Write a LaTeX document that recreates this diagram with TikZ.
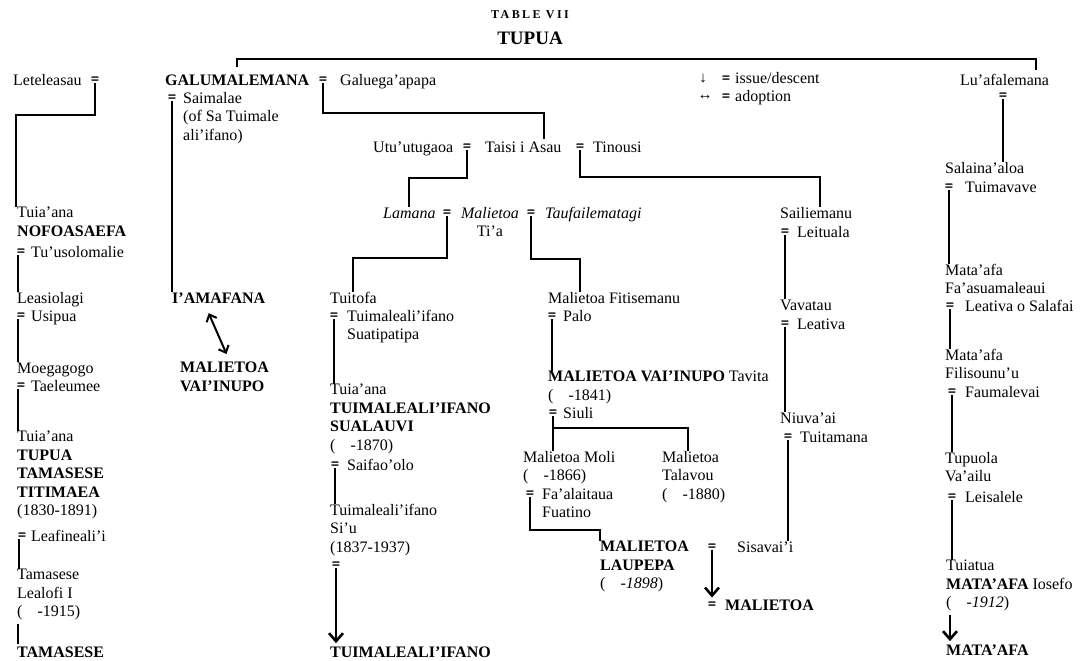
\documentclass[tikz,border=0pt]{standalone}
\usepackage{fontspec}
\setmainfont{Liberation Serif}
\usetikzlibrary{arrows.meta}
\newcommand\nmfont{\fontsize{16}{18.5}\selectfont}
\newcommand\eqfont{\fontsize{14}{14}\selectfont\bfseries\addfontfeatures{FakeBold=2}}
\newcommand\tblfont{\fontsize{12}{14}\selectfont\bfseries\addfontfeatures{LetterSpace=20}}
\newcommand\hdfont{\fontsize{19}{22}\selectfont\bfseries}
\newcommand\legfont{\fontsize{15}{16}\selectfont}
\newcommand\dgap{\hspace{15pt}}
\begin{document}
\begin{tikzpicture}[x=1pt,y=-1pt,
  nm/.style={anchor=base west, inner sep=0pt, align=left, font=\nmfont},
  mb/.style={nm, anchor=north west, yshift=11pt},
  eqs/.style={inner sep=0pt, font=\eqfont},
  link/.style={line width=2.6pt, line join=miter},
  desc/.style={link, -{Straight Barb[length=8pt,width=14pt]}},
  adopt/.style={line width=2pt, {Straight Barb[length=6pt,width=11pt]}-{Straight Barb[length=6pt,width=11pt]}}]
\useasboundingbox (0,0) rectangle (1082,661);
\fill[white] (0,0) rectangle (1082,661);

% heading
\node[inner sep=0pt, font=\tblfont] (tbl) at (530,15) {TABLE VII};
\node[inner sep=0pt, font=\hdfont] (tupua) at (530,38) {TUPUA};

% key
\node[inner sep=0pt, font=\legfont] (kdown) at (703,79) {↓};
\node[eqs] (keq1) at (726,79) {=};
\node[nm] (kissue) at (735,84) {issue/descent};
\node[inner sep=0pt, font=\legfont] (kadopt) at (705,97) {↔};
\node[eqs] (keq2) at (726,97) {=};
\node[nm] (kadoption) at (735,102) {adoption};

% Leteleasau line (left column)
\node[nm] (lete) at (13,85) {Leteleasau};
\node[eqs] (leteq) at (95,80) {=};
\node[mb] (tuia1) at (17,218) {Tuia’ana\\\textbf{NOFOASAEFA}};
\node[eqs] (eqA) at (21,252) {=};
\node[nm] (tusu) at (31,257) {Tu’usolomalie};
\node[nm] (leas) at (17,303) {Leasiolagi};
\node[eqs] (eqB) at (21,316) {=};
\node[nm] (usip) at (31,321) {Usipua};
\node[nm] (moeg) at (17,373) {Moegagogo};
\node[eqs] (eqC) at (21,386) {=};
\node[nm] (tael) at (31,391) {Taeleumee};
\node[mb] (tuia2) at (17,442) {Tuia’ana\\\textbf{TUPUA}\\\textbf{TAMASESE}\\\textbf{TITIMAEA}\\(1830-1891)};
\node[eqs] (eqD) at (22,536) {=};
\node[nm] (leaf) at (31,541) {Leafineali’i};
\node[mb] (tamas) at (17,580) {Tamasese\\Lealofi I\\(\dgap-1915)};
\node[nm] (tamfin) at (17,657) {\textbf{TAMASESE}};

\coordinate (j0) at (16,115);
\draw[link] (leteq.south) |- (j0) -- (j0 |- tuia1.north);
\draw[link] ([xshift=1pt]eqA.south west) -- ([xshift=1pt]eqA.south west |- leas.north);
\draw[link] ([xshift=1pt]eqB.south west) -- ([xshift=1pt]eqB.south west |- moeg.north);
\draw[link] ([xshift=1pt]eqC.south west) -- ([xshift=1pt]eqC.south west |- tuia2.north);
\draw[link] ([xshift=1pt]eqD.south west) -- ([xshift=1pt]eqD.south west |- tamas.north);
\draw[link] ([xshift=1pt,yshift=-4pt]tamas.south west) -- ([xshift=1pt,yshift=2pt]tamas.south west |- tamfin.north);

% Galumalemana
\node[nm] (gal) at (165,85) {\textbf{GALUMALEMANA}};
\node[eqs] (galeq) at (323,80) {=};
\node[nm] (galu) at (340,85) {Galuega’apapa};
\node[eqs] (eqS) at (172,98) {=};
\node[mb] (saim) at (183,103) {Saimalae\\(of Sa Tuimale\\ali’ifano)};
\node[nm] (iama) at (172,303) {\textbf{I’AMAFANA}};
\node[mb] (mvai) at (180,373) {\textbf{MALIETOA}\\\textbf{VAI’INUPO}};
\draw[link] (eqS.south) -- (eqS.south |- iama.north);
\draw[adopt] ([shift={(-10pt,-10pt)}]iama.south) -- ([shift={(2pt,8pt)}]mvai.north);

% Lu'afalemana
\node[nm] (luaf) at (960,85) {Lu’afalemana};
\node[eqs] (luafeq) at (1003,96) {=};

% top bracket
\coordinate (jtop) at (1036,59);
\draw[link] ([yshift=7pt]gal.north) |- (jtop) -- ([yshift=4pt]jtop |- luaf.north);

% Taisi i Asau
\node[nm] (utu) at (373,152) {Utu’utugaoa};
\node[eqs] (utueq) at (467,147) {=};
\node[nm] (taisi) at (485,152) {Taisi i Asau};
\node[eqs] (taieq) at (580,147) {=};
\node[nm] (tino) at (593,152) {Tinousi};
\coordinate (j1) at (544,113);
\draw[link] (galeq.south) |- (j1) -- ([yshift=2pt]j1 |- taisi.north);

% Malietoa Ti'a
\node[nm, font=\nmfont\itshape] (lamana) at (383,218) {Lamana};
\node[eqs] (lameq) at (447,213) {=};
\node[nm, align=center, anchor=north, yshift=11pt] (malt) at (490,218) {\textit{Malietoa}\\Ti’a};
\node[eqs] (maleq) at (531,213) {=};
\node[nm, font=\nmfont\itshape] (tauf) at (545,218) {Taufailematagi};
\node[nm] (sail) at (780,218) {Sailiemanu};
\coordinate (j2) at (409,178);
\draw[link] (utueq.south) |- (j2) -- (j2 |- lamana.north);
\coordinate (j3) at (820,177);
\draw[link] (taieq.south) |- (j3) -- (j3 |- sail.north);

% Tuitofa line
\node[nm] (tuitofa) at (330,303) {Tuitofa};
\node[eqs] (eqT) at (334,316) {=};
\node[mb] (tsua) at (347,321) {Tuimaleali’ifano\\Suatipatipa};
\node[mb] (tsual) at (330,395) {Tuia’ana\\\textbf{TUIMALEALI’IFANO}\\\textbf{SUALAUVI}\\(\dgap-1870)};
\node[eqs] (eqT2) at (335,465) {=};
\node[nm] (saif) at (347,470) {Saifao’olo};
\node[mb] (tsiu) at (330,515) {Tuimaleali’ifano\\Si’u\\(1837-1937)};
\node[eqs] (eqT3) at (336,565) {=};
\node[nm] (tfin) at (330,657) {\textbf{TUIMALEALI’IFANO}};
\coordinate (j4) at (353,258);
\draw[link] (lameq.south) |- (j4) -- (j4 |- tuitofa.north);
\draw[link] (eqT.south) -- (eqT.south |- tsual.north);
\draw[link] (eqT2.south) -- (eqT2.south |- tsiu.north);
\draw[desc] (eqT3.south) -- ([yshift=3pt]eqT3.south |- tfin.north);

% Malietoa Fitisemanu line
\node[nm] (mfit) at (548,303) {Malietoa Fitisemanu};
\node[eqs] (eqP) at (552,316) {=};
\node[nm] (palo) at (563,321) {Palo};
\node[mb] (mvt) at (548,382) {\textbf{MALIETOA VAI’INUPO} Tavita\\(\dgap-1841)};
\node[eqs] (eqSi) at (553,413) {=};
\node[nm] (siuli) at (563,418) {Siuli};
\node[mb] (moli) at (523,462) {Malietoa Moli\\(\dgap-1866)};
\node[eqs] (eqF) at (530,494) {=};
\node[mb] (faal) at (542,499) {Fa’alaitaua\\Fuatino};
\node[mb] (tala) at (662,462) {Malietoa\\Talavou\\(\dgap-1880)};
\node[mb] (laup) at (600,552) {\textbf{MALIETOA}\\\textbf{LAUPEPA}\\(\dgap\textit{-1898})};
\node[eqs] (eqM) at (712,547) {=};
\node[nm] (sisa) at (737,552) {Sisavai’i};
\node[eqs] (eqM2) at (712,605) {=};
\node[nm] (malfin) at (725,610) {\textbf{MALIETOA}};
\coordinate (j5) at (580,259);
\draw[link] (maleq.south) |- (j5) -- (j5 |- mfit.north);
\draw[link] (eqP.south) -- (eqP.south |- mvt.north);
\coordinate (j6) at (553,428);
\coordinate (j7) at (688,428);
\draw[link] (eqSi.south) -- (eqSi.south |- moli.north);
\draw[link] (j6) -- (j7) -- (j7 |- tala.north);
\coordinate (j8) at (600,530);
\draw[link] (eqF.south) |- (j8) -- (j8 |- laup.north);
\draw[desc] (eqM.south) -- ([yshift=4pt]eqM2.north);

% Sailiemanu line
\node[eqs] (eqL) at (785,232) {=};
\node[nm] (leit) at (797,237) {Leituala};
\node[nm] (vava) at (780,310) {Vavatau};
\node[eqs] (eqV) at (785,324) {=};
\node[nm] (leat) at (797,329) {Leativa};
\node[nm] (niuv) at (780,423) {Niuva’ai};
\node[eqs] (eqN) at (788,437) {=};
\node[nm] (tuit) at (800,442) {Tuitamana};
\draw[link] (eqL.south) -- (eqL.south |- vava.north);
\draw[link] (eqV.south) -- (eqV.south |- niuv.north);
\draw[link] (eqN.south) -- (eqN.south |- sisa.north);

% Lu'afalemana line (right column)
\node[nm] (sala) at (945,173) {Salaina’aloa};
\node[eqs] (eqR1) at (949,187) {=};
\node[nm] (tuim) at (965,192) {Tuimavave};
\node[mb] (mfa) at (945,275) {Mata’afa\\Fa’asuamaleaui};
\node[eqs] (eqR2) at (950,306) {=};
\node[nm] (leos) at (965,311) {Leativa o Salafai};
\node[mb] (mfi) at (945,360) {Mata’afa\\Filisounu’u};
\node[eqs] (eqR3) at (952,392) {=};
\node[nm] (faum) at (965,397) {Faumalevai};
\node[mb] (tupv) at (945,463) {Tupuola\\Va’ailu};
\node[eqs] (eqR4) at (952,497) {=};
\node[nm] (leis) at (965,502) {Leisalele};
\node[mb] (tuia3) at (946,571) {Tuiatua\\\textbf{MATA’AFA} Iosefo\\(\dgap\textit{-1912})};
\node[nm] (mfin) at (946,655) {\textbf{MATA’AFA}};
\draw[link] (luafeq.south) -- (luafeq.south |- sala.north);
\draw[link] (eqR1.south) -- (eqR1.south |- mfa.north);
\draw[link] (eqR2.south) -- (eqR2.south |- mfi.north);
\draw[link] (eqR3.south) -- (eqR3.south |- tupv.north);
\draw[link] (eqR4.south) -- (eqR4.south |- tuia3.north);
\draw[desc] ([xshift=4pt,yshift=-4pt]tuia3.south west) -- ([xshift=4pt,yshift=3pt]mfin.north west);
\end{tikzpicture}
\end{document}
